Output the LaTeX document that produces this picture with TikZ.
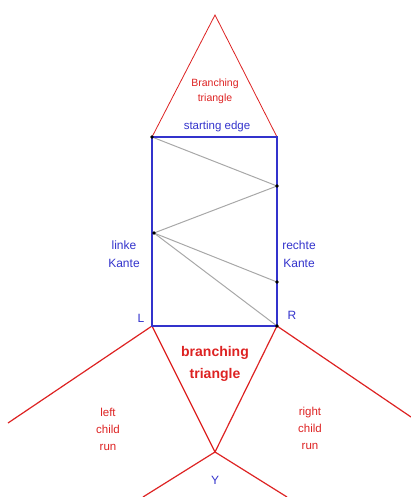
\documentclass[tikz,border=0pt]{standalone}
\usepackage{fontspec}
\setmainfont{Liberation Sans}
\definecolor{Edge}{HTML}{3333CC}
\definecolor{Tri}{HTML}{DD2222}
\definecolor{Diag}{HTML}{A8A8A8}
\begin{document}
\begin{tikzpicture}[x=1pt,y=-1pt,
 tri/.style={draw=Tri,line width=1.2pt},
 lbl/.style={text=Edge,font=\fontsize{12}{18}\selectfont,align=center},
 red/.style={text=Tri,font=\fontsize{11.5}{17}\selectfont,align=center},
 dot/.style={circle,fill=black,inner sep=1.3pt}]
\useasboundingbox (0,0) rectangle (411,497);
% corners and points
\coordinate (A) at (215,15);
\coordinate (TL) at (152,137);
\coordinate (TR) at (277,137);
\coordinate (BL) at (152,326);
\coordinate (BR) at (277,326);
\coordinate (Y) at (215,452);
\coordinate (P1) at (277,186);
\coordinate (P2) at (154,233);
\coordinate (P3) at (277,282);
% red triangles
\draw[tri,line width=0.8pt] (TL) -- (A) -- (TR);
\draw[tri] (BL) -- (Y) -- (BR);
\draw[tri] (BL) -- (8,423);
\draw[tri] (BR) -- (411,417);
\draw[tri] (Y) -- (143,497);
\draw[tri] (Y) -- (287,497);
% diagonals
\draw[Diag,line width=1pt] (TL) -- (P1) -- (P2) -- (P3);
\draw[Diag,line width=1pt] (P2) -- (BR);
% rectangle
\draw[Edge,line width=1.6pt] (TL) rectangle (BR);
\foreach \p in {TL,P1,P2,P3,BR}
 \node[dot] at (\p) {};
% texts
\node[red,font=\fontsize{10.5}{15}\selectfont] (bt) at (215,91) {Branching\\triangle};
\node[lbl,font=\fontsize{11.5}{14}\selectfont] (se) at (217,127) {starting edge};
\node[lbl] (lk) at (124,254) {linke\\Kante};
\node[lbl] (rk) at (299,254) {rechte\\Kante};
\node[lbl] (l) at (141,318) {L};
\node[lbl] (r) at (292,315) {R};
\node[red,font=\bfseries\fontsize{14}{22}\selectfont] (bb) at (215,364) {branching\\triangle};
\node[red] (lc) at (108,429) {left\\child\\run};
\node[red] (rc) at (310,428) {right\\child\\run};
\node[lbl] (y) at (215,480) {Y};
\end{tikzpicture}
\end{document}
